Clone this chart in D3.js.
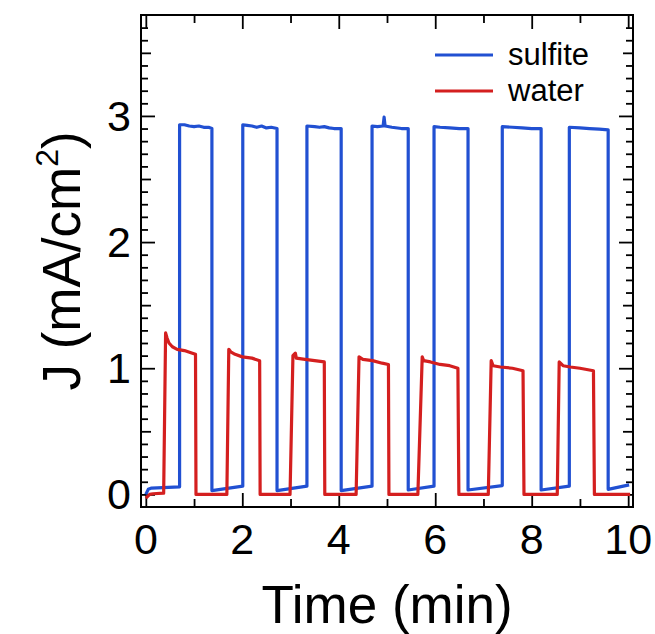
<!DOCTYPE html>
<html>
<head>
<meta charset="utf-8">
<script src="https://cdn.jsdelivr.net/npm/d3@7"></script>
<style>
  body { margin: 0; background: #fff; }
  text { font-family: "Liberation Sans", Arial, sans-serif; fill: #000; }
</style>
</head>
<body>
<script>
// Photocurrent: [time (min), J (mA/cm2)]
const sulfite = [
  [0.00, 0.00], [0.05, 0.04], [0.12, 0.05], [0.70, 0.06],
  [0.70, 2.93], [0.80, 2.93], [0.90, 2.92], [1.00, 2.915], [1.10, 2.92], [1.20, 2.91], [1.30, 2.91], [1.37, 2.90],
  [1.37, 0.03], [2.01, 0.065],
  [2.01, 2.93], [2.10, 2.925], [2.20, 2.92], [2.30, 2.91], [2.40, 2.92], [2.50, 2.905], [2.60, 2.91], [2.72, 2.90],
  [2.72, 0.03], [3.34, 0.065],
  [3.34, 2.92], [3.50, 2.915], [3.60, 2.91], [3.70, 2.915], [3.80, 2.905], [3.90, 2.90], [4.05, 2.90],
  [4.05, 0.03], [4.69, 0.065],
  [4.69, 2.92], [4.80, 2.915], [4.92, 2.92], [4.94, 2.99], [4.96, 2.92], [5.10, 2.91], [5.30, 2.90], [5.44, 2.90],
  [5.44, 0.035], [5.975, 0.065],
  [5.975, 2.915], [6.10, 2.91], [6.30, 2.905], [6.50, 2.90], [6.68, 2.90],
  [6.68, 0.035], [7.39, 0.07],
  [7.39, 2.915], [7.60, 2.91], [7.80, 2.905], [8.00, 2.90], [8.195, 2.90],
  [8.195, 0.035], [8.78, 0.065],
  [8.78, 2.91], [9.00, 2.905], [9.20, 2.90], [9.40, 2.895], [9.585, 2.89],
  [9.585, 0.04], [10.02, 0.075]
];

const water = [
  [0.00, -0.03], [0.08, 0.00], [0.15, 0.005], [0.37, 0.01],
  [0.41, 1.28], [0.44, 1.24], [0.48, 1.20], [0.55, 1.17], [0.65, 1.15], [0.80, 1.14], [0.95, 1.12], [1.03, 1.11],
  [1.04, 0.00], [1.68, 0.00],
  [1.72, 1.15], [1.76, 1.13], [1.85, 1.11], [2.00, 1.09], [2.20, 1.08], [2.36, 1.06],
  [2.37, 0.00], [2.99, 0.00],
  [3.05, 1.10], [3.10, 1.12], [3.12, 1.08], [3.30, 1.07], [3.50, 1.06], [3.70, 1.05],
  [3.71, 0.00], [4.36, 0.00],
  [4.42, 1.09], [4.50, 1.07], [4.70, 1.06], [4.90, 1.04], [5.03, 1.03],
  [5.04, 0.00], [5.64, 0.00],
  [5.73, 1.09], [5.76, 1.06], [5.90, 1.05], [6.10, 1.03], [6.30, 1.02], [6.47, 1.00],
  [6.49, 0.00], [7.10, 0.00],
  [7.16, 1.06], [7.20, 1.02], [7.35, 1.01], [7.60, 1.00], [7.82, 0.98],
  [7.84, 0.00], [8.53, 0.00],
  [8.57, 1.05], [8.65, 1.02], [8.80, 1.01], [9.00, 1.00], [9.28, 0.98],
  [9.30, 0.00], [10.04, 0.00]
];

const seriesNames = ['sulfite', 'water'];
const xTickLabels = [0, 2, 4, 6, 8, 10];
const yTickLabels = [0, 1, 2, 3];

const blue = '#2150d2';
const red = '#d41f1f';

const margin = { top: 15, right: 22, bottom: 127, left: 141 };
const width = 655 - margin.left - margin.right;
const height = 634 - margin.top - margin.bottom;

const x = d3.scaleLinear().domain([-0.1, 10.1]).range([0, width]);
const y = d3.scaleLinear().domain([-0.1, 3.8]).range([height, 0]);

const svg = d3.select('body')
  .append('svg')
  .attr('width', 655)
  .attr('height', 634);

const g = svg.append('g')
  .attr('transform', 'translate(' + margin.left + ',' + margin.top + ')');

g.append('clipPath').attr('id', 'plot')
  .append('rect').attr('width', width).attr('height', height);

// tick sets (inward, on all four sides)
const xMinor = [1, 3, 5, 7, 9];
const yMinor = d3.range(0, 38).map(d => d / 10).filter(d => Math.round(d * 10) % 5 !== 0);
const yMid = [0.5, 1.5, 2.5, 3.5];

function ticks(axisFn, values, size, transform) {
  const a = g.append('g')
    .attr('class', 'axis')
    .attr('transform', transform || null)
    .call(axisFn.tickValues(values).tickSize(-size).tickFormat(''));
  a.select('.domain').remove();
  a.selectAll('line').attr('stroke', '#000').attr('stroke-width', 1.8);
}

ticks(d3.axisBottom(x), xTickLabels, 14, 'translate(0,' + height + ')');
ticks(d3.axisBottom(x), xMinor, 8, 'translate(0,' + height + ')');
ticks(d3.axisTop(x), xTickLabels, 14);
ticks(d3.axisTop(x), xMinor, 8);
ticks(d3.axisLeft(y), yTickLabels, 14);
ticks(d3.axisLeft(y), yMid, 10);
ticks(d3.axisLeft(y), yMinor, 7);
ticks(d3.axisRight(y), yTickLabels, 14, 'translate(' + width + ',0)');
ticks(d3.axisRight(y), yMid, 10, 'translate(' + width + ',0)');
ticks(d3.axisRight(y), yMinor, 7, 'translate(' + width + ',0)');

// tick labels
g.selectAll('.xlab').data(xTickLabels).enter().append('text')
  .attr('x', d => x(d))
  .attr('y', height + 47)
  .attr('text-anchor', 'middle')
  .style('font-size', '43px')
  .text(d => d);

g.selectAll('.ylab').data(yTickLabels).enter().append('text')
  .attr('x', -10)
  .attr('y', d => y(d) + 15)
  .attr('text-anchor', 'end')
  .style('font-size', '43px')
  .text(d => d);

// lines
const line = d3.line()
  .x(d => x(d[0]))
  .y(d => y(d[1]));

const plot = g.append('g').attr('clip-path', 'url(#plot)');
plot.append('path')
  .attr('d', line(sulfite))
  .attr('fill', 'none')
  .attr('stroke', blue)
  .attr('stroke-width', 3.2)
  .attr('stroke-linejoin', 'round');
plot.append('path')
  .attr('d', line(water))
  .attr('fill', 'none')
  .attr('stroke', red)
  .attr('stroke-width', 3.2)
  .attr('stroke-linejoin', 'round');

// frame
g.append('rect')
  .attr('width', width)
  .attr('height', height)
  .attr('fill', 'none')
  .attr('stroke', '#000')
  .attr('stroke-width', 2);

// legend
const legend = g.selectAll('.legend').data(seriesNames).enter().append('g')
  .attr('transform', (d, i) => 'translate(294,' + (40 + i * 36) + ')');
legend.append('line')
  .attr('x1', 0).attr('x2', 58)
  .attr('stroke', (d, i) => i === 0 ? blue : red)
  .attr('stroke-width', 3);
legend.append('text')
  .attr('x', 73)
  .attr('y', 10)
  .style('font-size', '31px')
  .text(d => d);

// axis titles
svg.append('text')
  .attr('x', margin.left + width / 2)
  .attr('y', 623)
  .attr('text-anchor', 'middle')
  .style('font-size', '53px')
  .text('Time (min)');

const yt = svg.append('text')
  .attr('transform', 'translate(80,' + (margin.top + height / 2) + ') rotate(-90)')
  .attr('text-anchor', 'middle')
  .style('font-size', '53px');
yt.append('tspan').text('J (mA/cm');
yt.append('tspan').attr('dy', -22).style('font-size', '32px').text('2');
yt.append('tspan').attr('dy', 22).text(')');
</script>
</body>
</html>
